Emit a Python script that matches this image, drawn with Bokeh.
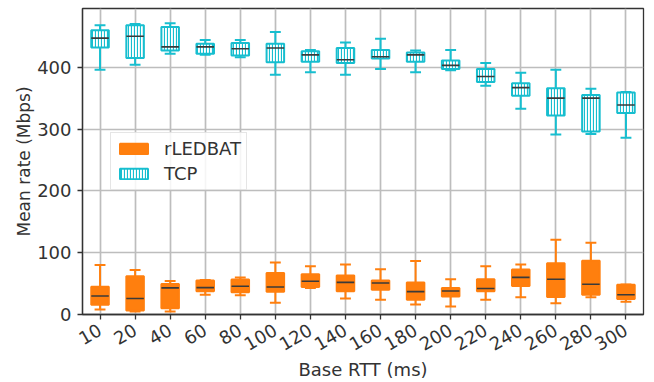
from bokeh.plotting import figure
from bokeh.models import FactorRange, Range1d, SingleIntervalTicker, Legend, LegendItem, ColumnDataSource
from bokeh.transform import dodge
from bokeh.embed import file_html
from bokeh.resources import INLINE
import math

cats = ["10", "20", "40", "60", "80", "100", "120", "140", "160", "180",
        "200", "220", "240", "260", "280", "300"]

tcp_lo  = [396, 404, 422, 420, 416, 388, 392, 388, 397, 392, 395, 370, 333, 291, 292, 286]
tcp_q1  = [432, 415, 427, 422, 419, 408, 409, 407, 414, 409, 397, 376, 354, 322, 296, 326]
tcp_med = [447, 450, 433, 433, 430, 431, 420, 412, 417, 420, 403, 385, 367, 350, 350, 339]
tcp_q3  = [460, 468, 465, 438, 439, 438, 426, 431, 428, 424, 411, 397, 374, 366, 355, 359]
tcp_hi  = [468, 470, 471, 444, 444, 457, 428, 440, 446, 427, 428, 407, 391, 396, 365, 360]

led_lo  = [8, 5, 5, 32, 31, 19, 43, 26, 23.7, 16, 13, 23.7, 28, 18, 28, 20.5]
led_q1  = [15.6, 6.5, 10, 37.6, 36, 36.6, 44.6, 37.6, 40, 23.7, 29, 37.6, 46, 28.5, 32, 25]
led_med = [30, 26, 43, 43.5, 45.7, 44.6, 53.7, 52, 51, 37, 38, 42, 60, 57, 49, 32]
led_q3  = [45, 62, 49.5, 55, 56.5, 67, 65, 63, 55, 51.6, 43, 57, 72.6, 83, 87, 48]
led_hi  = [80, 72, 54, 56, 60, 84, 78, 81, 73, 86.5, 57, 78, 81, 121, 116, 48.5]

y_ticks_interval = 100

TCP_C = "#17becf"
LED_C = "#ff7f0e"
MED_C = "#3a3a3a"
TXT_C = "#333333"
FONT = "DejaVu Sans"
FS = "18px"

p = figure(frame_width=561, frame_height=306, x_range=FactorRange(*cats, range_padding=0),
           y_range=Range1d(0, 495), output_backend="svg", toolbar_location=None,
           min_border_left=82, min_border_right=11, min_border_top=8, min_border_bottom=0)

BW = 0.5
CW = 0.31


def draw(lo, q1, med, q3, hi, color, hatch):
    src = ColumnDataSource(dict(x=cats, lo=lo, q1=q1, med=med, q3=q3, hi=hi))
    p.segment(x0="x", y0="lo", x1="x", y1="q1", source=src, line_color=color, line_width=2)
    p.segment(x0="x", y0="q3", x1="x", y1="hi", source=src, line_color=color, line_width=2)
    for key in ("lo", "hi"):
        p.segment(x0=dodge("x", -CW / 2, range=p.x_range), y0=key,
                  x1=dodge("x", CW / 2, range=p.x_range), y1=key,
                  source=src, line_color=color, line_width=2)
    if hatch:
        r = p.vbar(x="x", bottom="q1", top="q3", width=BW, source=src, fill_color="white",
                   line_color=color, line_width=2, hatch_pattern="vertical_line",
                   hatch_color=color, hatch_scale=3, hatch_weight=1.2)
    else:
        r = p.vbar(x="x", bottom="q1", top="q3", width=BW, source=src, fill_color=color,
                   line_color=color, line_width=2)
    p.segment(x0=dodge("x", -BW / 2, range=p.x_range), y0="med",
              x1=dodge("x", BW / 2, range=p.x_range), y1="med",
              source=src, line_color=MED_C, line_width=1.6)
    return r


r_led = draw(led_lo, led_q1, led_med, led_q3, led_hi, LED_C, False)
r_tcp = draw(tcp_lo, tcp_q1, tcp_med, tcp_q3, tcp_hi, TCP_C, True)

p.yaxis.ticker = SingleIntervalTicker(interval=y_ticks_interval)
p.xaxis.major_label_orientation = math.pi / 6
p.xaxis.axis_label = "Base RTT (ms)"
p.yaxis.axis_label = "Mean rate (Mbps)"

for ax in (p.xaxis, p.yaxis):
    ax.axis_label_text_font = FONT
    ax.axis_label_text_font_size = FS
    ax.axis_label_text_font_style = "normal"
    ax.axis_label_text_color = TXT_C
    ax.major_label_text_font = FONT
    ax.major_label_text_font_size = FS
    ax.major_label_text_color = TXT_C
    ax.axis_line_color = "#333333"
    ax.axis_line_width = 1.3
    ax.major_tick_line_color = "#333333"
    ax.major_tick_line_width = 1.3
    ax.major_tick_out = 5
    ax.major_tick_in = 0
    ax.minor_tick_line_color = None

p.yaxis.axis_label_text_font_size = "17px"
p.yaxis.major_label_standoff = 6
p.yaxis.axis_label_standoff = 0
p.xaxis.major_label_standoff = 9
p.xaxis.axis_label_standoff = -1

p.xgrid.grid_line_color = "#bdbdbd"
p.ygrid.grid_line_color = "#bdbdbd"
p.xgrid.grid_line_width = 1.7
p.ygrid.grid_line_width = 1.7
p.outline_line_color = "#333333"
p.outline_line_width = 1.3
p.background_fill_color = "white"
p.border_fill_color = "white"

legend = Legend(items=[LegendItem(label="rLEDBAT", renderers=[r_led]),
                       LegendItem(label="TCP", renderers=[r_tcp])],
                location=(28, 124), glyph_width=35, glyph_height=13,
                label_text_font=FONT, label_text_font_size=FS, label_text_color=TXT_C,
                label_standoff=13, label_height=20, spacing=4, padding=5, margin=0,
                border_line_color="#cccccc", border_line_width=1,
                background_fill_color="white", background_fill_alpha=0.85)
p.add_layout(legend)

open("out.html", "w").write(file_html(p, INLINE))
